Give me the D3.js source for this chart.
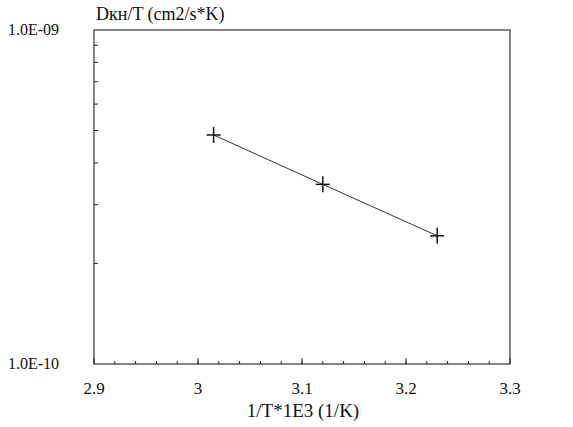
<!DOCTYPE html>
<html><head><meta charset="utf-8">
<script src="https://cdn.jsdelivr.net/npm/d3@7"></script>
<style>body{margin:0;background:#fff}svg{display:block}</style>
</head><body><svg id="c" width="573" height="427"></svg>
<script>
const xValues = [3.015, 3.12, 3.23];
const yValues = [4.85e-10, 3.45e-10, 2.42e-10];
const xTicks = [2.9, 3.0, 3.1, 3.2, 3.3];
const xTickLabels = ["2.9", "3", "3.1", "3.2", "3.3"];
const yTickLabels = ["1.0E-10", "1.0E-09"];
const yMinorTicks = [2e-10,3e-10,4e-10,5e-10,6e-10,7e-10,8e-10,9e-10];

const FONT = "'Liberation Serif', 'DejaVu Serif', serif";
const L=94, R=510, T=30, B=364;
const svg=d3.select("#c");
const x=d3.scaleLinear().domain([2.9,3.3]).range([L,R]);
const y=d3.scaleLog().domain([1e-10,1e-9]).range([B,T]);

svg.append("rect").attr("x",L).attr("y",T).attr("width",R-L).attr("height",B-T)
  .attr("fill","none").attr("stroke","#222").attr("stroke-width",1.1);

const xMinor=d3.range(2.92,3.29,0.02);
svg.append("g").selectAll("line").data(xMinor).join("line")
  .attr("x1",d=>x(d)).attr("x2",d=>x(d)).attr("y1",B).attr("y2",B-3)
  .attr("stroke","#222");
svg.append("g").selectAll("line").data(xTicks).join("line")
  .attr("x1",d=>x(d)).attr("x2",d=>x(d)).attr("y1",B).attr("y2",B-6)
  .attr("stroke","#222");
svg.append("g").selectAll("text").data(xTicks).join("text")
  .attr("x",d=>x(d)).attr("y",B+30).attr("text-anchor","middle")
  .attr("font-family",FONT).attr("font-size",17).attr("fill","#111")
  .text((d,i)=>xTickLabels[i]);

svg.append("g").selectAll("line").data(yMinorTicks).join("line")
  .attr("x1",L).attr("x2",L+4).attr("y1",d=>y(d)).attr("y2",d=>y(d))
  .attr("stroke","#222");
svg.append("g").selectAll("text").data([1e-10,1e-9]).join("text")
  .attr("x",8).attr("y",d=>y(d)+5).attr("font-family",FONT).attr("font-size",16)
  .attr("fill","#111").text((d,i)=>yTickLabels[i]);

const t=svg.append("text").attr("x",96).attr("y",20).attr("font-family",FONT)
  .attr("font-size",18).attr("fill","#111");
t.append("tspan").text("D");
t.append("tspan").text("кн");
t.append("tspan").text("/T (cm2/s*K)");

svg.append("text").attr("x",303).attr("y",417).attr("text-anchor","middle")
  .attr("font-family",FONT).attr("font-size",19).attr("fill","#111").text("1/T*1E3 (1/K)");

const pts=xValues.map((v,i)=>[v,yValues[i]]);
svg.append("path").datum(pts).attr("fill","none").attr("stroke","#333").attr("stroke-width",1)
  .attr("d",d3.line().x(d=>x(d[0])).y(d=>y(d[1])));
const m=svg.append("g").selectAll("g").data(pts).join("g")
  .attr("transform",d=>`translate(${x(d[0])},${y(d[1])})`);
m.append("line").attr("x1",-7).attr("x2",7).attr("stroke","#111").attr("stroke-width",1.5);
m.append("line").attr("y1",-8).attr("y2",8).attr("stroke","#111").attr("stroke-width",1.5);
</script></body></html>
